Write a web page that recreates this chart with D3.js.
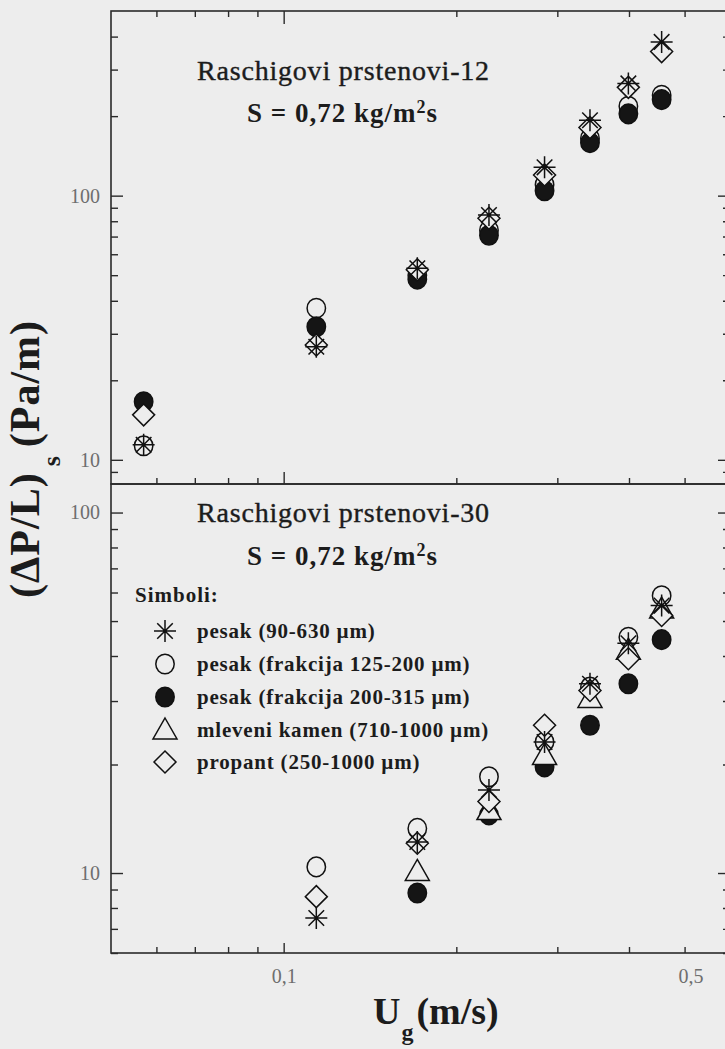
<!DOCTYPE html>
<html><head><meta charset="utf-8">
<script src="https://cdn.jsdelivr.net/npm/d3@7"></script>
<style>body{margin:0;background:#ededed}svg{display:block}</style>
</head><body><svg id="c" width="725" height="1049"></svg>
<script>
// ---------- data ----------
const uTop = [0.057, 0.114, 0.171, 0.228, 0.285, 0.342, 0.399, 0.456];
const starTop    = [11.4, 26.8, 53.1, 84.5, 128, 193, 266, 382];
const openTop    = [11.3, 37.5, 50, 74, 110, 165, 218, 240];
const filledTop  = [16.6, 31.9, 48.3, 70.8, 104.4, 158.7, 204, 231];
const diamondTop = [14.8, 27.2, 52.4, 82.1, 119.8, 181, 257, 351];

const uBot = [0.114, 0.171, 0.228, 0.285, 0.342, 0.399, 0.456];
const starBot    = [7.5, 12.2, 17.0, 23.1, 33.5, 43.4, 55.2];
const openBot    = [10.4, 13.3, 18.5, 23.1, 32.8, 45.1, 58.8];
const filledBot  = [null, 8.8, 14.5, 19.7, 25.7, 33.5, 44.4];
const triBot     = [null, 10.1, 14.9, 21.2, 30.5, 41.5, 54.0];
const diamondBot = [8.6, 12.1, 15.8, 25.7, 32.1, 39.3, 51.8];

const legendLabels = ["pesak (90-630 \u00b5m)", "pesak (frakcija 125-200 \u00b5m)",
  "pesak (frakcija 200-315 \u00b5m)", "mleveni kamen (710-1000 \u00b5m)", "propant (250-1000 \u00b5m)"];
const legendSymbols = ["star", "open", "filled", "triangle", "diamond"];
const xTicks = [0.06, 0.07, 0.08, 0.09, 0.1, 0.2, 0.3, 0.4, 0.5];
const xLabels = {0.1: "0,1", 0.5: "0,5"};
const yTopTicks = [9, 10, 20, 30, 40, 50, 60, 70, 80, 90, 100, 200, 300, 400];
const yBotTicks = [6, 7, 8, 9, 10, 20, 30, 40, 50, 60, 70, 80, 90, 100];
const yMajors = [10, 100];

// ---------- layout ----------
const BG = "#ededed", INK = "#2a2a2a";
const L = 111, R = 730, T1 = 11, M = 484, B2 = 953;
const FONT = "'Liberation Serif','Times New Roman',serif";
const svg = d3.select("#c");
svg.append("rect").attr("width", 725).attr("height", 1049).attr("fill", BG);

const x = d3.scaleLog().domain([0.05, 0.6]).range([L, R]);
const yTop = d3.scaleLog().domain([8.1, 500]).range([M, T1]);
const yBot = d3.scaleLog().domain([6, 120]).range([B2, M]);

function styleAxis(g, majorLen, minorLen, isMajor, horiz) {
  g.select(".domain").remove();
  g.selectAll(".tick line").attr("stroke", INK).attr("stroke-width", 1.4)
    .each(function(d) {
      const sel = d3.select(this);
      const attr = horiz ? "y2" : "x2";
      const v = +sel.attr(attr);
      const len = isMajor(d) ? majorLen : minorLen;
      sel.attr(attr, Math.sign(v) * len);
    });
  g.selectAll(".tick text").attr("fill", "#6e6e6e").style("font-family", FONT).style("font-size", "20px");
}
const isYMajor = d => yMajors.includes(d);
const isXMajor = d => d === 0.1;

function panelY(y, ticks, showLabels) {
  const gl = svg.append("g").attr("transform", `translate(${L},0)`)
    .call(d3.axisLeft(y).tickValues(ticks).tickSize(-12).tickPadding(11)
      .tickFormat(d => showLabels && isYMajor(d) ? String(d) : ""));
  styleAxis(gl, 12, 7, isYMajor, false);
  const gr = svg.append("g").attr("transform", `translate(${R},0)`)
    .call(d3.axisRight(y).tickValues(ticks).tickSize(-12).tickFormat(""));
  styleAxis(gr, 12, 7, isYMajor, false);
}
panelY(yTop, yTopTicks, true);
panelY(yBot, yBotTicks, true);

const gxTop = svg.append("g").attr("transform", `translate(0,${T1})`)
  .call(d3.axisTop(x).tickValues(xTicks).tickSize(-13).tickFormat(""));
styleAxis(gxTop, 13, 6, isXMajor, true);
const gxMid = svg.append("g").attr("transform", `translate(0,${M})`)
  .call(d3.axisBottom(x).tickValues(xTicks).tickSize(-12).tickFormat(""));
styleAxis(gxMid, 12, 6, isXMajor, true);
const gxBot = svg.append("g").attr("transform", `translate(0,${B2})`)
  .call(d3.axisBottom(x).tickValues(xTicks).tickSize(-10).tickPadding(16)
    .tickFormat(d => xLabels[d] || ""));
styleAxis(gxBot, 10, 6, isXMajor, true);
gxBot.selectAll(".tick text").attr("dx", d => d === 0.5 ? 6 : 0);

// frames
[[T1, M], [M, B2]].forEach(([a, b]) => {
  svg.append("rect").attr("x", L).attr("y", a).attr("width", R - L).attr("height", b - a)
    .attr("fill", "none").attr("stroke", INK).attr("stroke-width", 1.6);
});

// ---------- markers ----------
function drawMarker(g, type, cx, cy) {
  let el;
  if (type === "open" || type === "filled") {
    el = g.append("ellipse").attr("cx", cx).attr("cy", cy).attr("rx", 9.2).attr("ry", 9.8)
      .attr("fill", type === "filled" ? "#151515" : BG);
  } else if (type === "diamond") {
    const r = 11;
    el = g.append("path").attr("d", `M${cx},${cy - r}L${cx + r},${cy}L${cx},${cy + r}L${cx - r},${cy}Z`).attr("fill", BG);
  } else if (type === "triangle") {
    el = g.append("path").attr("d", `M${cx},${cy - 12}L${cx + 12},${cy + 9}L${cx - 12},${cy + 9}Z`).attr("fill", BG);
  } else if (type === "star") {
    const r = 11, p = d3.path();
    for (let k = 0; k < 4; k++) {
      const a = k * Math.PI / 4;
      p.moveTo(cx - r * Math.cos(a), cy - r * Math.sin(a));
      p.lineTo(cx + r * Math.cos(a), cy + r * Math.sin(a));
    }
    el = g.append("path").attr("d", p.toString()).attr("fill", "none");
  }
  el.attr("stroke", "#111").attr("stroke-width", 1.5);
}

function drawSeries(us, vals, type, y) {
  const g = svg.append("g");
  us.forEach((u, i) => { if (vals[i] != null) drawMarker(g, type, x(u), y(vals[i])); });
}
// draw order: open, filled, triangle, diamond, star
drawSeries(uTop, openTop, "open", yTop);
drawSeries(uTop, filledTop, "filled", yTop);
drawSeries(uTop, diamondTop, "diamond", yTop);
drawSeries(uTop, starTop, "star", yTop);

drawSeries(uBot, openBot, "open", yBot);
drawSeries(uBot, filledBot, "filled", yBot);
drawSeries(uBot, triBot, "triangle", yBot);
drawSeries(uBot, diamondBot, "diamond", yBot);
drawSeries(uBot, starBot, "star", yBot);

// ---------- texts ----------
function title(txt, xx, yy) {
  svg.append("text").attr("x", xx).attr("y", yy).text(txt)
    .style("font-family", FONT).style("font-size", "28px").style("letter-spacing", "0.8px")
    .attr("fill", "#1c1c1c").attr("stroke", "#1c1c1c").attr("stroke-width", 0.4);
}
function sLine(xx, yy) {
  const t = svg.append("text").attr("x", xx).attr("y", yy)
    .style("font-family", FONT).style("font-size", "27px").style("font-weight", "bold")
    .style("letter-spacing", "1px").attr("fill", "#1c1c1c");
  t.append("tspan").text("S = 0,72 kg/m");
  t.append("tspan").text("2").attr("dy", -9).style("font-size", "18px");
  t.append("tspan").text("s").attr("dy", 9);
}
title("Raschigovi prstenovi-12", 197, 80);
sLine(247, 122);
title("Raschigovi prstenovi-30", 197, 522);
sLine(247, 565);

svg.append("text").attr("x", 135).attr("y", 602).text("Simboli:")
  .style("font-family", FONT).style("font-size", "21px").style("font-weight", "bold")
  .style("letter-spacing", "1px").attr("fill", "#1c1c1c");
const legBase = [638, 671, 704, 737, 769];
const lg = svg.append("g");
legendLabels.forEach((lab, i) => {
  drawMarker(lg, legendSymbols[i], 165, legBase[i] - 7);
  lg.append("text").attr("x", 197).attr("y", legBase[i]).text(lab)
    .style("font-family", FONT).style("font-size", "21px").style("font-weight", "bold")
    .style("letter-spacing", "0.8px").attr("fill", "#1c1c1c");
});

// axis titles
const yl = svg.append("text").attr("transform", "translate(39,598) rotate(-90)")
  .style("font-family", FONT).style("font-weight", "bold").attr("fill", "#1c1c1c")
  .style("letter-spacing", "1px");
yl.append("tspan").text("(\u0394P/L)").style("font-size", "42px");
yl.append("tspan").text("s").style("font-size", "26px").attr("dx", 6).attr("dy", 21);
yl.append("tspan").text("(Pa/m)").style("font-size", "42px").attr("dx", 8).attr("dy", -21);

const xl = svg.append("text").attr("x", 373).attr("y", 1024)
  .style("font-family", FONT).style("font-weight", "bold").attr("fill", "#1c1c1c");
xl.append("tspan").text("U").style("font-size", "38px");
xl.append("tspan").text("g").style("font-size", "24px").attr("dx", 1).attr("dy", 16);
xl.append("tspan").text("(m/s)").style("font-size", "38px").attr("dx", 3).attr("dy", -16);
</script></body></html>
